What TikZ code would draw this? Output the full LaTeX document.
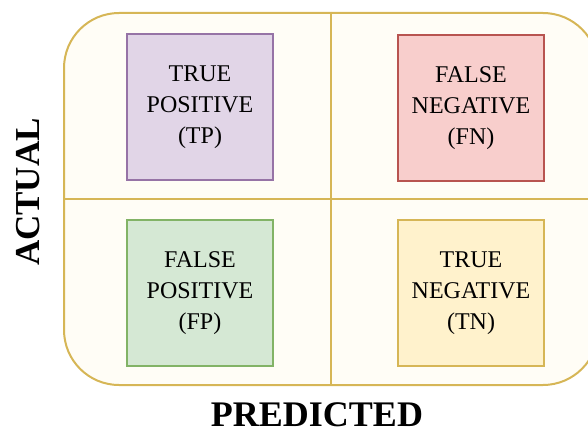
\documentclass[tikz,border=0pt]{standalone}
\usepackage{fontspec}
\setmainfont{Liberation Serif}
\definecolor{framefill}{HTML}{FFFDF6}
\definecolor{framedraw}{HTML}{D6B656}
\definecolor{tpfill}{HTML}{E1D5E7}
\definecolor{tpdraw}{HTML}{9673A6}
\definecolor{fnfill}{HTML}{F8CECC}
\definecolor{fndraw}{HTML}{B85450}
\definecolor{fpfill}{HTML}{D5E8D4}
\definecolor{fpdraw}{HTML}{82B366}
\definecolor{tnfill}{HTML}{FFF2CC}
\definecolor{tndraw}{HTML}{D6B656}
\begin{document}
\begin{tikzpicture}[x=1pt,y=-1pt,
  cell/.style={draw, line width=1.5pt, minimum width=146pt, minimum height=146pt,
    align=center, font=\fontsize{24}{31}\selectfont},
  axis/.style={inner sep=0pt, font=\fontsize{35}{40}\selectfont\bfseries}]
\useasboundingbox (0,0) rectangle (588,436);
\node (frame) [draw=framedraw, fill=framefill, line width=2pt, rounded corners=55pt,
  minimum width=534pt, minimum height=372pt] at (331,199) {};
\draw[framedraw, line width=2pt] (frame.north) -- (frame.south);
\draw[framedraw, line width=2pt] (frame.west) -- (frame.east);
\node (tp) [cell, draw=tpdraw, fill=tpfill] at (200,107) {TRUE\\POSITIVE\\(TP)};
\node (fn) [cell, draw=fndraw, fill=fnfill] at (471,108) {FALSE\\NEGATIVE\\(FN)};
\node (fp) [cell, draw=fpdraw, fill=fpfill] at (200,293) {FALSE\\POSITIVE\\(FP)};
\node (tn) [cell, draw=tndraw, fill=tnfill] at (471,293) {TRUE\\NEGATIVE\\(TN)};
\node (actual) [axis, rotate=90] at (28,192) {ACTUAL};
\node (predicted) [axis, font=\fontsize{36}{40}\selectfont\bfseries] at (317,415) {PREDICTED};
\end{tikzpicture}
\end{document}
